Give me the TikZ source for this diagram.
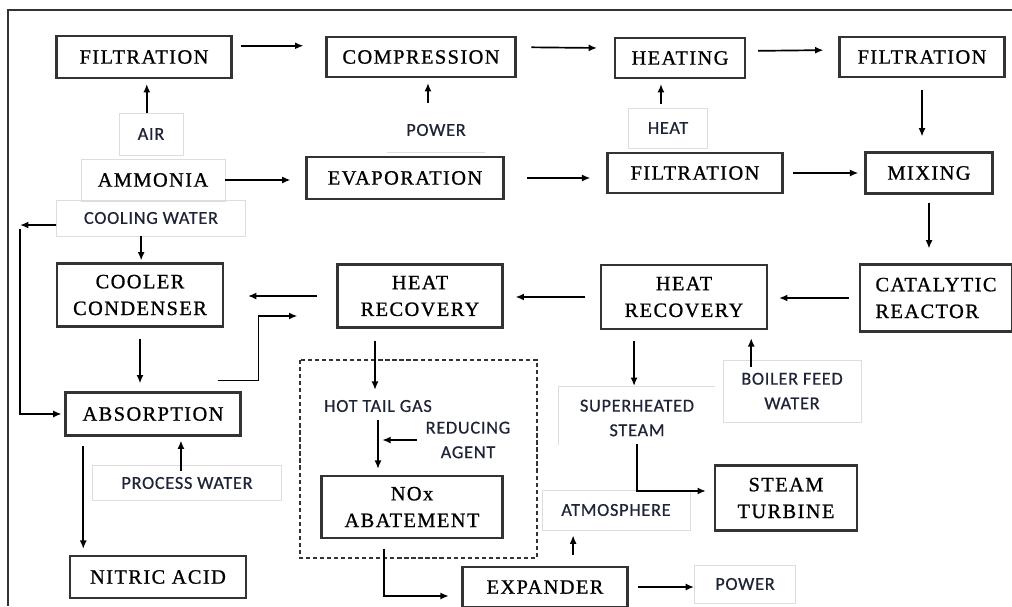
\documentclass[tikz,border=0pt]{standalone}
\usepackage{fontspec}
\newfontfamily\boxfont[LetterSpace=7,FakeBold=0.9]{Liberation Serif}
\newfontfamily\labelfont[LetterSpace=4,FakeBold=0.6]{Carlito}
\usepackage{tikz}
\usetikzlibrary{calc,arrows.meta}
\definecolor{boxgray}{HTML}{333333}
\definecolor{faint}{HTML}{DDDDDD}
\definecolor{labelink}{HTML}{1E2436}
\tikzset{
    boxsize/.style 2 args={minimum width=#1*0.025cm, minimum height=#2*0.025cm},
    procbox/.style={draw=boxgray, line width=1.5pt, inner sep=0pt, align=center, text=black,
        font=\fontsize{14.5}{19}\selectfont\boxfont},
    feedbox/.style={draw=faint, line width=0.6pt, inner sep=0pt, align=center, text=labelink,
        font=\fontsize{13}{17.5}\selectfont\labelfont},
    feed/.style={inner sep=2pt, align=center, text=labelink,
        font=\fontsize{13}{17.5}\selectfont\labelfont},
    faintline/.style={draw=faint, line width=0.6pt},
    flow/.style={-{Latex[length=6pt,width=5pt]}, line width=1.2pt, black}
}
\begin{document}
\begin{tikzpicture}[x=0.025cm, y=-0.025cm]
                    \useasboundingbox (0,0) rectangle (1012,606);
                    \draw [boxgray, line width=1.5pt] (1012,10) -- (8,10) -- (8,606);
                    \node [procbox, boxsize={175}{42}] (filt1) at (144,57) {FILTRATION};
                    \node [procbox, boxsize={189}{40}] (comp) at (421,57) {COMPRESSION};
                    \node [procbox, boxsize={130}{40}] (heating) at (680,58) {HEATING};
                    \node [procbox, boxsize={165}{40}] (filt2) at (922,57) {FILTRATION};
                    \node [feedbox, boxsize={64}{42}] (air) at (151,134) {AIR};
                    \node [feed, boxsize={98}{44}, inner sep=0pt] (power1) at (436,130) {POWER};
                    \draw [faintline] (power1.south west) -- (power1.south east);
                    \node [feedbox, boxsize={79}{40}] (heatin) at (668,128) {HEAT};
                    \node [feedbox, boxsize={144}{42}, text=black, font=\fontsize{14.5}{19}\selectfont\boxfont] (ammonia) at (153,180) {AMMONIA};
                    \node [procbox, boxsize={197}{42}] (evap) at (405,178) {EVAPORATION};
                    \node [procbox, boxsize={175}{40}] (filt3) at (695,173) {FILTRATION};
                    \node [procbox, boxsize={127}{41}] (mixing) at (929,173) {MIXING};
                    \node [feedbox, boxsize={189}{36}] (cooling) at (151,218) {COOLING WATER};
                    \node [procbox, boxsize={166}{63}] (cooler) at (140,295) {COOLER\\CONDENSER};
                    \node [procbox, boxsize={165}{63}] (hrec1) at (420,296) {HEAT\\RECOVERY};
                    \node [procbox, boxsize={166}{64}] (hrec2) at (684,297) {HEAT\\RECOVERY};
                    \node [procbox, boxsize={152}{67}, align=left] (reactor) at (936,298) {CATALYTIC\\REACTOR};
                    \node [procbox, boxsize={175}{43}] (absorb) at (153,414) {ABSORPTION};
                    \node [feedbox, boxsize={189}{35}] (pwater) at (187,483) {PROCESS WATER};
                    \node [procbox, boxsize={176}{42}] (nitric) at (158,577) {NITRIC ACID};
                    \draw [boxgray, line width=0.8pt, dash pattern=on 3pt off 2pt] (300,360) rectangle (537,558);
                    \node [feed] (tailgas) at (378,406) {HOT TAIL GAS};
                    \node [feed] (reducing) at (468,440) {REDUCING\\AGENT};
                    \node [procbox, boxsize={181}{62}] (nox) at (412,507) {NOx\\ABATEMENT};
                    \node [procbox, boxsize={165}{40}] (expander) at (545,587) {EXPANDER};
                    \node [feedbox, boxsize={101}{38}] (power2) at (745,584) {POWER};
                    \node [feedbox, boxsize={148}{40}] (atmos) at (616,510) {ATMOSPHERE};
                    \coordinate (steamcorner) at (558,386);
                    \draw [faintline] (558,445) -- (steamcorner) -- (715,386);
                    \node [feed] (steam) at (637,418) {SUPERHEATED\\STEAM};
                    \node [procbox, boxsize={142}{65}] (turbine) at (786,498) {STEAM\\TURBINE};
                    \node [feedbox, boxsize={138}{62}] (boiler) at (792,391) {BOILER FEED\\WATER};
                    \coordinate (cwturn) at (20,225);
                    \draw [flow, shorten <=6pt, shorten >=15.6pt] ([yshift=8pt]filt1.east) -- ([yshift=8pt]comp.west);
                    \draw [flow, shorten <=10.6pt, shorten >=12pt] ([yshift=7pt]comp.east) -- ([yshift=7pt]heating.west);
                    \draw [flow, shorten <=8.5pt, shorten >=10.6pt] ([yshift=5pt]heating.east) -- ([yshift=5pt]filt2.west);
                    \draw [flow, shorten <=8.5pt, shorten >=10.6pt] (filt2.south) -- (filt2.south |- mixing.north);
                    \draw [flow, shorten >=3.5pt] ([xshift=-3pt]air.north) coordinate (a1) -- (a1 |- filt1.south);
                    \draw [flow, shorten <=3.5pt, shorten >=3.5pt] ([xshift=-5.7pt]power1.north) coordinate (p1) -- (p1 |- comp.south);
                    \draw [flow, shorten <=2.8pt, shorten >=3.5pt] ([xshift=-5pt]heatin.north) coordinate (h1) -- (h1 |- heating.south);
                    \draw [flow, shorten >=10.6pt] (ammonia.east) -- (ammonia.east -| evap.west);
                    \draw [flow, shorten <=16pt, shorten >=11.4pt] (evap.east) -- (evap.east -| filt3.west);
                    \draw [flow, shorten <=7pt, shorten >=4.3pt] (filt3.east) -- (filt3.east -| mixing.west);
                    \draw [flow, shorten <=5.7pt, shorten >=10.6pt] (mixing.south) -- (mixing.south |- reactor.north);
                    \draw [flow, shorten <=7pt, shorten >=7.8pt] (reactor.west) -- (reactor.west -| hrec2.east);
                    \draw [flow, shorten <=10.6pt, shorten >=8.5pt] (hrec2.west) -- (hrec2.west -| hrec1.east);
                    \draw [flow, shorten <=13.5pt, shorten >=17pt] (hrec1.west) -- (hrec1.west -| cooler.east);
                    \draw [flow, shorten >=1.4pt] ([xshift=-7pt]cooling.south) coordinate (c1) -- (c1 |- cooler.north);
                    \draw [flow] ([yshift=-5pt]cooling.west) -- (cwturn);
                    \draw [flow, shorten >=2pt] ([yshift=-3pt]cwturn) |- (absorb.west);
                    \draw [flow, shorten <=7.8pt, shorten >=5.7pt] (cooler.south) -- (cooler.south |- absorb.north);
                    \draw [flow] ($(absorb.north east)+(-24,-11)$) -- ++(41,0) |- ($(hrec1.west)+(-39,20)$);
                    \draw [flow, shorten <=-4pt, shorten >=2.8pt] ([xshift=-4.3pt]pwater.north) coordinate (w1) -- (w1 |- absorb.south);
                    \draw [flow, shorten <=7pt, shorten >=4.3pt] ([xshift=-49.6pt]absorb.south) coordinate (n1) -- (n1 |- nitric.north);
                    \draw [flow, shorten <=8.5pt, shorten >=5pt] ([xshift=-32pt]hrec1.south) coordinate (t1) -- (t1 |- tailgas.north);
                    \draw [flow, shorten <=3.5pt, shorten >=4.3pt] (tailgas.south) -- (tailgas.south |- nox.north);
                    \draw [flow, shorten <=4pt, shorten >=3pt] (reducing.west) -- (reducing.west -| tailgas.south);
                    \draw [flow, shorten <=7pt, shorten >=9pt] ([xshift=-20pt]nox.south) |- ([yshift=-6.4pt]expander.west);
                    \draw [flow, shorten <=7.8pt, shorten >=3.5pt] ([xshift=20pt]expander.north) coordinate (x1) -- (x1 |- atmos.south);
                    \draw [flow, shorten <=7pt] (expander.east) -- (expander.east -| power2.west);
                    \draw [flow, shorten <=7.8pt] ([xshift=-35.5pt]hrec2.south) coordinate (s1) -- (s1 |- steamcorner);
                    \draw [flow, shorten <=3.5pt, shorten >=5.7pt] (steam.south) |- ([yshift=5pt]turbine.west);
                    \draw [flow, shorten <=-5pt, shorten >=5.7pt] ([xshift=-29pt]boiler.north) coordinate (b1) -- (b1 |- hrec2.south);
                \end{tikzpicture}
\end{document}
